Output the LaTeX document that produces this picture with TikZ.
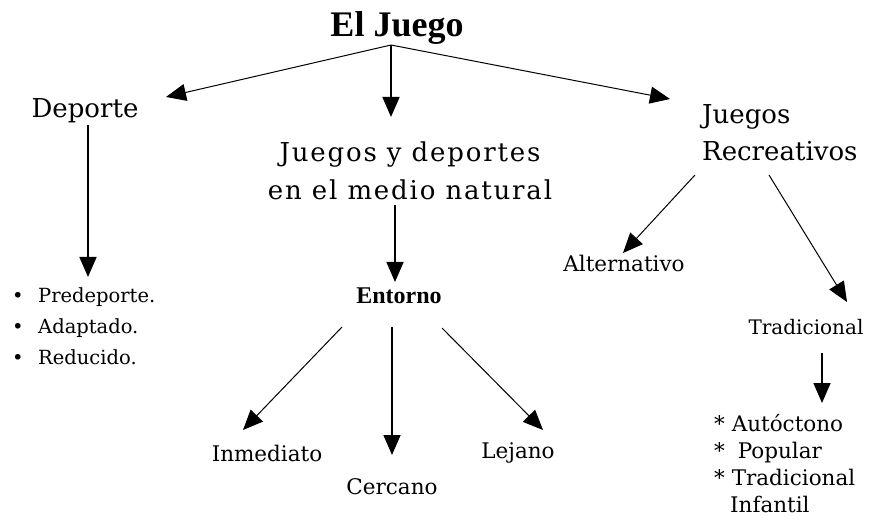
\documentclass[tikz,border=0pt]{standalone}
\usepackage{fontspec}
\setmainfont{DejaVu Serif}
\newfontfamily\timesfont{Liberation Serif}
\newfontfamily\widefont[LetterSpace=7]{DejaVu Serif}
\usetikzlibrary{arrows.meta}
\begin{document}
\begin{tikzpicture}[x=1pt,y=-1pt,
  big/.style={font=\fontsize{26}{37}\selectfont, inner sep=0pt},
  small/.style={font=\fontsize{21.5}{30}\selectfont, inner sep=0pt},
  arr/.style={-{Triangle[length=20pt,width=17pt]}, line width=1.6pt},
  thinarr/.style={-{Triangle[length=20pt,width=17pt]}, line width=1pt}]
\useasboundingbox[fill=white] (0,0) rectangle (869,526);
% nodes
\node[inner sep=0pt, font=\timesfont\bfseries\fontsize{36}{40}\selectfont] (title) at (397,28) {El Juego};
\node[big] (dep) at (85,111) {Deporte};
\node[big, align=center, font=\widefont\fontsize{26}{38}\selectfont] (jdm) at (410,171) {Juegos y deportes\\en el medio natural};
\node[big, align=left, anchor=west] (jr) at (702,133) {Juegos\\Recreativos};
\node[small, align=left, anchor=west, font=\fontsize{19.5}{31}\selectfont] (dlist) at (12,326)
  {\makebox[26pt][l]{•}Predeporte.\\\makebox[26pt][l]{•}Adaptado.\\\makebox[26pt][l]{•}Reducido.};
\node[inner sep=0pt, font=\timesfont\bfseries\fontsize{24}{28}\selectfont] (ent) at (399,296) {Entorno};
\node[small] (inm) at (267,453) {Inmediato};
\node[small] (cer) at (392,487) {Cercano};
\node[small] (lej) at (518,453) {Lejano};
\node[small] (alt) at (624,263) {Alternativo};
\node[small, font=\fontsize{20}{30}\selectfont] (trad) at (806,327) {Tradicional};
\node[small, align=left, anchor=north west, font=\fontsize{21.5}{27.2}\selectfont] (tlist) at (714,414)
  {* Autóctono\\*\hspace{6pt} Popular\\* Tradicional\\\hspace{16pt}Infantil};
% connector points
\coordinate (j) at (391,45);
\coordinate (tD) at (166,97);
\coordinate (tM) at (391,117);
\coordinate (tR) at (670,99);
\coordinate (dA) at (88,125);
\coordinate (dB) at (88,277);
\coordinate (mA) at (395,205);
\coordinate (mB) at (395,282);
\coordinate (e1a) at (342,327);
\coordinate (e1b) at (243,430);
\coordinate (e2a) at (392,327);
\coordinate (e2b) at (392,455);
\coordinate (e3a) at (442,328);
\coordinate (e3b) at (543,430);
\coordinate (r1a) at (695,175);
\coordinate (r1b) at (623,253);
\coordinate (r2a) at (769,175);
\coordinate (r2b) at (847,302);
\coordinate (ta) at (822,353);
\coordinate (tb) at (822,403);
% connectors
\draw[thinarr] (j) -- (tD);
\draw[arr] (j) -- (tM);
\draw[thinarr] (j) -- (tR);
\draw[arr] (dA) -- (dB);
\draw[arr] (mA) -- (mB);
\draw[thinarr] (e1a) -- (e1b);
\draw[arr] (e2a) -- (e2b);
\draw[thinarr] (e3a) -- (e3b);
\draw[thinarr] (r1a) -- (r1b);
\draw[thinarr] (r2a) -- (r2b);
\draw[arr] (ta) -- (tb);
\end{tikzpicture}
\end{document}
